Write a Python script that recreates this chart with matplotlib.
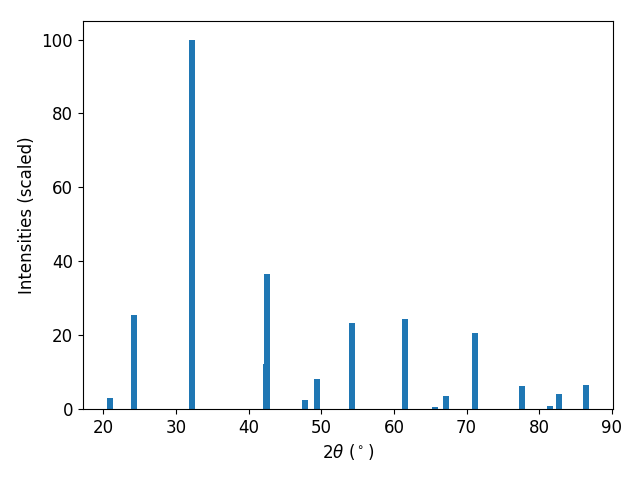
import matplotlib
matplotlib.use("Agg")
import matplotlib.pyplot as plt

# peak positions (2theta, degrees) and scaled intensities
two_theta = [20.93, 24.26, 32.17, 42.40, 42.55, 47.79, 49.44, 54.25,
             61.54, 65.67, 67.18, 71.17, 77.63, 81.42, 82.72, 86.44]
intensity = [3.0, 25.5, 100.0, 12.3, 36.6, 2.4, 8.1, 23.3,
             24.4, 0.4, 3.5, 20.6, 6.2, 0.8, 4.1, 6.5]

plt.rcParams['font.size'] = 12

fig, ax = plt.subplots(figsize=(6.4, 4.8), dpi=100)
ax.bar(two_theta, intensity, width=0.8)
ax.set_xlabel(r'$2\theta$ ($^\circ$)')
ax.set_ylabel('Intensities (scaled)')
fig.subplots_adjust(left=0.1295, right=0.958, top=0.956, bottom=0.148)
fig.savefig('out.png')
